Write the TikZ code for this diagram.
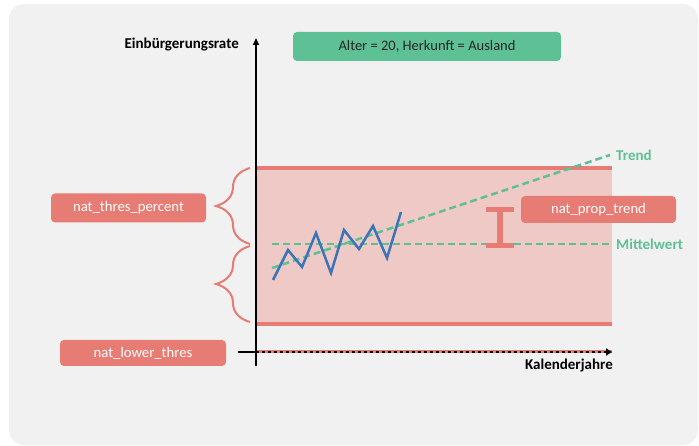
\documentclass[tikz,border=0pt]{standalone}
\usepackage{fontspec}
\setmainfont{Carlito}
\usetikzlibrary{decorations.pathreplacing,arrows.meta}
\definecolor{bgc}{HTML}{F1F1F1}
\definecolor{salmon}{HTML}{E67C73}
\definecolor{pinkfill}{HTML}{EEC9C5}
\definecolor{grn}{HTML}{5EC095}
\definecolor{blu}{HTML}{3B74B8}
\tikzset{
  redbox/.style={fill=salmon, rounded corners=4pt, text=white, inner sep=0pt, font=\fontsize{14.7}{17}\selectfont},
  greenbox/.style={fill=grn, rounded corners=4pt, text=black!85, inner sep=0pt, font=\fontsize{14.5}{17}\selectfont},
  axislabel/.style={font=\bfseries\fontsize{15}{17}\selectfont, text=black, inner sep=0pt},
  greenlabel/.style={font=\bfseries\fontsize{15}{17}\selectfont, text=grn, inner sep=0pt},
  thresline/.style={salmon, line width=4pt},
  greendash/.style={grn, line width=2.5pt, dash pattern=on 7pt off 4pt},
  bracestyle/.style={salmon, line width=2pt, decorate, decoration={brace, amplitude=34pt}},
  axisline/.style={black, line width=2pt}
}
\begin{document}
\begin{tikzpicture}[x=1pt,y=-1pt]
\useasboundingbox (0,0) rectangle (699,446);
\fill[bgc, rounded corners=15pt] (9,4) rectangle (698,445);

% coordinates
\coordinate (TL) at (256,168);
\coordinate (TR) at (612,168);
\coordinate (BL) at (256,324);
\coordinate (BR) at (612,324);
\coordinate (M1) at (272,244);
\coordinate (M2) at (612,244);
\coordinate (T1) at (272,268);
\coordinate (T2) at (610,155);
\coordinate (Ybot) at (256,366);
\coordinate (Ytop) at (256,38);
\coordinate (Xl) at (238,352);
\coordinate (Xo) at (256,352);
\coordinate (Xr) at (612,352);
\coordinate (Eu) at (500,209.5);
\coordinate (Ed) at (500,245.5);
\coordinate (B1a) at (250,244);
\coordinate (B1b) at (250,168);
\coordinate (B2a) at (250,322);
\coordinate (B2b) at (250,246);

% band
\fill[pinkfill] (TL) rectangle (BR);
\draw[thresline] (TL) -- (TR);
\draw[thresline] (BL) -- (BR);

% mean and trend
\draw[greendash] (M1) -- (M2);
\draw[greendash] (T1) -- (T2);

% series
\draw[blu, line width=2.5pt, line join=miter]
  (273,280) -- (288,250) -- (302,267) -- (316,233) -- (331,273) -- (344,230)
  -- (359,249) -- (373,226) -- (387,258) -- (401,212);

% error bar
\draw[salmon, line width=6pt] (Eu) -- (Ed);
\draw[salmon, line width=5pt] ([xshift=-14pt]Eu) -- ([xshift=14pt]Eu);
\draw[salmon, line width=5pt] ([xshift=-14pt]Ed) -- ([xshift=14pt]Ed);

% axes
\draw[salmon, line width=3pt] (Xo) -- (Xr);
\draw[axisline] (Xl) -- (Xo);
\draw[black, line width=2.5pt, dash pattern=on 3pt off 3pt, -{Triangle[length=6pt,width=7pt]}] (Xo) -- (Xr);
\draw[axisline, -{Triangle[length=7pt,width=6pt]}] (Ybot) -- (Ytop);

% braces
\draw[bracestyle] (B1a) -- (B1b);
\draw[bracestyle] (B2a) -- (B2b);

% labels
\node[axislabel, anchor=east] (ylab) at (239,45) {Einbürgerungsrate};
\node[axislabel, anchor=east] (xlab) at (613,366) {Kalenderjahre};
\node[greenlabel, anchor=west] (trend) at (616,155) {Trend};
\node[greenlabel, anchor=west] (mittel) at (616,244) {Mittelwert};

% boxes
\node[greenbox, minimum width=268pt, minimum height=29pt] (cond) at (427,46.5) {Alter = 20, Herkunft = Ausland};
\node[redbox, minimum width=155pt, minimum height=29pt] (thres) at (128.5,208) {nat\_thres\_percent};
\node[redbox, minimum width=166pt, minimum height=26pt] (lower) at (143,353) {nat\_lower\_thres};
\node[redbox, minimum width=155pt, minimum height=27pt] (prop) at (598.5,209.5) {nat\_prop\_trend};
\end{tikzpicture}
\end{document}
